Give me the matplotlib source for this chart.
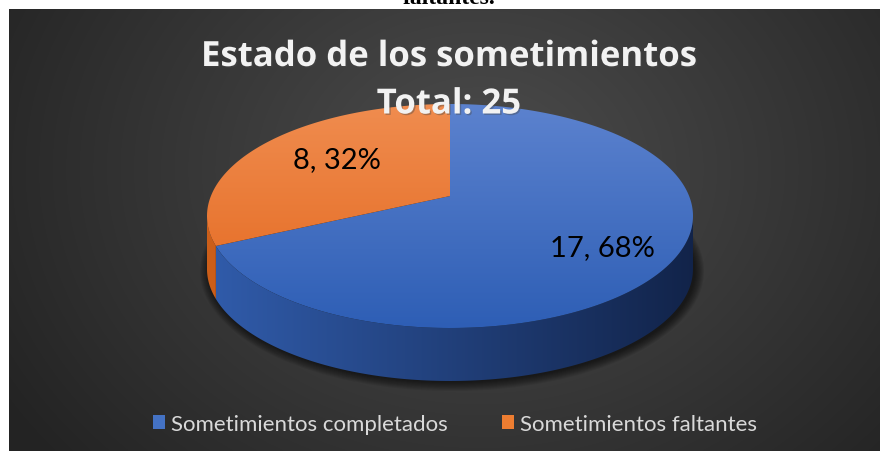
import numpy as np
import matplotlib
matplotlib.use("Agg")
import matplotlib.pyplot as plt
from matplotlib.patches import Polygon, Ellipse, Patch
import matplotlib.patheffects as pe

# data
categories = ["Sometimientos completados", "Sometimientos faltantes"]
values = [17, 8]
total = sum(values)
title_lines = ["Estado de los sometimientos", "Total: %d" % total]

# colours (top face light / dark, side light / dark)
top_cols = [((0.36, 0.51, 0.81), (0.18, 0.37, 0.71)),
            ((0.94, 0.55, 0.31), (0.89, 0.40, 0.11))]
side_cols = [((0.19, 0.36, 0.67), (0.07, 0.14, 0.29)),
             ((0.80, 0.37, 0.10), (0.60, 0.25, 0.05))]
legend_cols = ["#4472c4", "#ed7d31"]

# layout (pixels) - pie seen in perspective
W, H = 880, 452
cx, cy = 450, 197          # where the pie centre projects
top_y, bot_y = 105, 329    # far / near edge of the top face
half_w = 243
depth = 53
k = (bot_y - cy - (cy - top_y)) / (bot_y - top_y)
B = (cy - top_y) * (1 + k)
A = half_w * np.sqrt(1 - k ** 2)
label_pos = [(602, 248), (337, 160)]

fig = plt.figure(figsize=(W / 100, H / 100), dpi=100)
fig.patch.set_facecolor("white")
ax = fig.add_axes([0, 0, 1, 1])
ax.set_xlim(0, W)
ax.set_ylim(H, 0)
ax.axis("off")


def proj(theta_deg, drop=0.0):
    th = np.radians(theta_deg)
    u, v = np.cos(th), np.sin(th)
    w = 1 + k * v
    return cx + A * u / w, cy - B * v / w + drop


def grad_image(c0, c1, horizontal, n=256):
    t = np.linspace(0, 1, n)
    c0, c1 = np.array(c0), np.array(c1)
    row = c0[None, :] * (1 - t[:, None]) + c1[None, :] * t[:, None]
    if horizontal:
        return row[None, :, :]
    return row[:, None, :]


def fill_grad(poly, c0, c1, horizontal, extent, z):
    ax.add_patch(poly)
    im = ax.imshow(grad_image(c0, c1, horizontal), extent=extent,
                   aspect="auto", zorder=z, interpolation="bilinear")
    im.set_clip_path(poly)


# background, radial gradient
bx0, bx1, by0, by1 = 9, W, 10, H
gx, gy = np.meshgrid(np.linspace(bx0, bx1, 400), np.linspace(by0, by1, 220))
d = np.sqrt(((gx - 480) / 520) ** 2 + ((gy - 170) / 420) ** 2)
v = np.clip(0.30 - 0.15 * d, 0.14, 0.30)
ax.imshow(np.dstack([v, v, v]), extent=(bx0, bx1, by1, by0), aspect="auto",
          zorder=0, interpolation="bilinear")

# text cut off at the top of the page
ax.text(449, 3.5, "faltantes.", ha="center", va="baseline", fontsize=17,
        fontweight="bold", family="Liberation Serif", color="black", zorder=1)

# shadow under the pie
for i in range(10):
    ax.add_patch(Ellipse((cx + 2, (top_y + bot_y) / 2 + depth + 2),
                         2 * (half_w + 9 - i), (bot_y - top_y) + 16 - 2 * i,
                         facecolor="black", edgecolor="none", alpha=0.07, zorder=1))

# slice angles: start at 12 o'clock, clockwise
fracs = np.array(values) / total
ends = 90 - 360 * np.cumsum(fracs)
starts = np.concatenate([[90], ends[:-1]])
phi = np.degrees(np.arcsin(k))

# side walls (visible front part only)
for i in range(len(values)):
    a, b = ends[i], starts[i]
    for s in (-360, 0, 360):
        lo, hi = max(a, -180 + phi + s), min(b, -phi + s)
        if hi <= lo:
            continue
        th = np.linspace(lo, hi, 150)
        xs, ys = proj(th)
        xb, yb = proj(th[::-1], depth)
        pts = np.vstack([np.column_stack([xs, ys]), np.column_stack([xb, yb])])
        poly = Polygon(pts, closed=True, facecolor="none", edgecolor="none")
        fill_grad(poly, side_cols[i][0], side_cols[i][1], True,
                  (cx - half_w, cx + half_w, bot_y + depth, top_y), 2)

# top faces
for i in range(len(values)):
    xs, ys = proj(np.linspace(starts[i], ends[i], 240))
    pts = np.vstack([[cx, cy], np.column_stack([xs, ys])])
    poly = Polygon(pts, closed=True, facecolor="none", edgecolor="none")
    fill_grad(poly, top_cols[i][0], top_cols[i][1], False,
              (cx - half_w, cx + half_w, bot_y, top_y), 3)

# data labels
for i, (x, y) in enumerate(label_pos):
    ax.text(x, y, "%d, %d%%" % (values[i], round(100 * fracs[i])), ha="center",
            va="center", fontsize=21, family="Lato", color="black", zorder=5)

# title
for line, yb in zip(title_lines, [67, 114.5]):
    ax.text(449, yb, line, ha="center", va="baseline", fontsize=25,
            fontweight="bold", family="Open Sans", color="#f2f2f2", zorder=5,
            path_effects=[pe.withSimplePatchShadow(offset=(1, -1), alpha=0.4)])

# legend
handles = [Patch(facecolor=c, edgecolor="none") for c in legend_cols]
leg = fig.legend(handles, categories, loc="center", bbox_to_anchor=(455 / W, 1 - 425 / H),
                 ncol=2, frameon=False, handlelength=0.55, handleheight=0.55,
                 handletextpad=0.3, columnspacing=2.4,
                 prop={"family": "Lato", "size": 16})
for t in leg.get_texts():
    t.set_color("#d9d9d9")

ax.set_xlim(0, W)
ax.set_ylim(H, 0)
fig.savefig("out.png", dpi=100, facecolor="white")
